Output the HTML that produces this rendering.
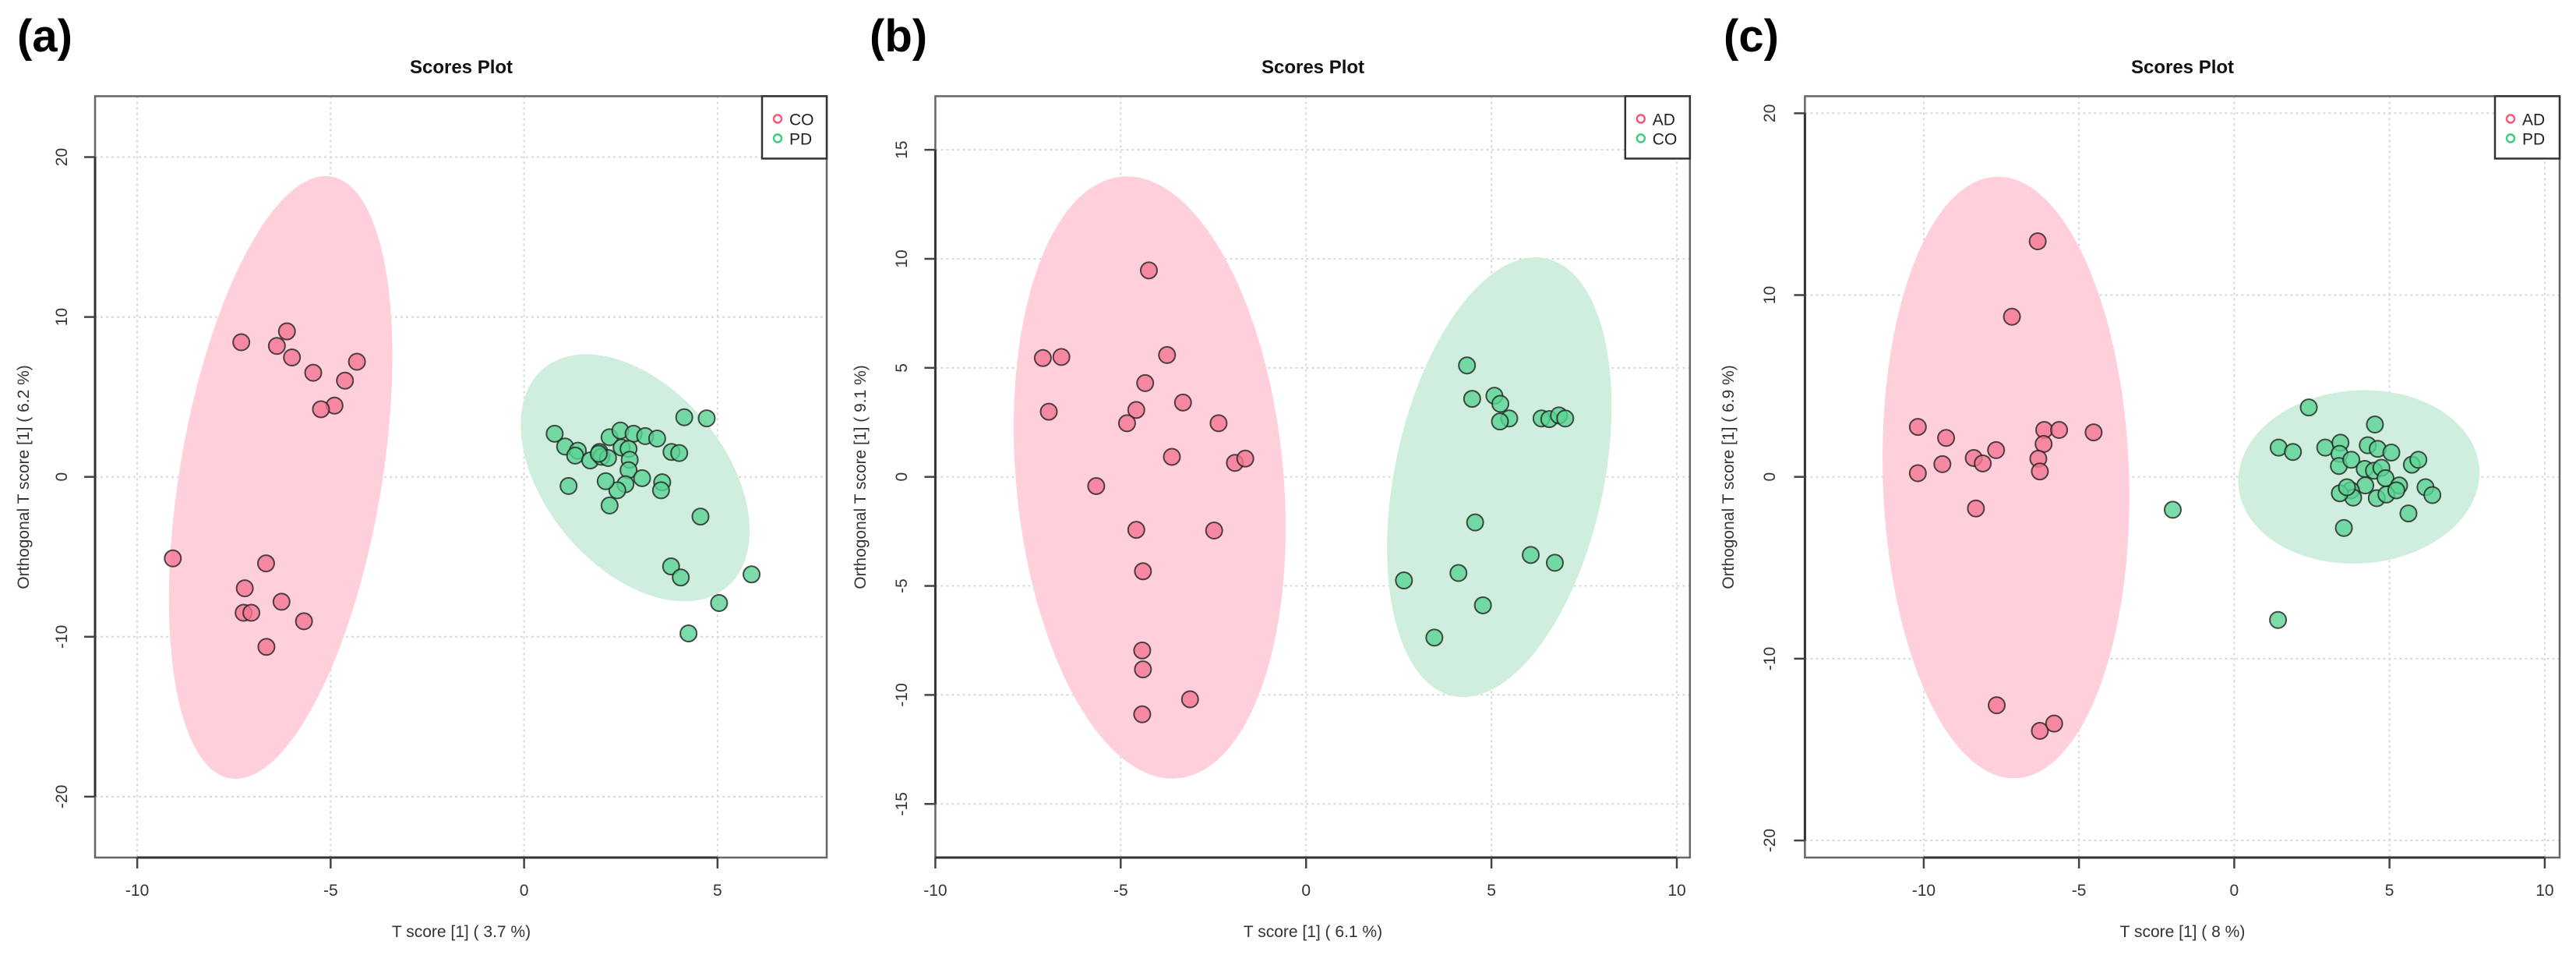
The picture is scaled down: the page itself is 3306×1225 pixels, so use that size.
<!DOCTYPE html>
<html><head><meta charset="utf-8"><style>
html,body{margin:0;padding:0;background:#fff;}
svg{display:block;font-family:"Liberation Sans",Arial,sans-serif;}
</style></head><body>
<svg id="fig" width="3306" height="1225" viewBox="0 0 3306 1225" xmlns="http://www.w3.org/2000/svg"></svg>
<script>
// Panel (a) CO vs PD
const aRedX=[-7.31,-6.13,-6.39,-6.0,-5.45,-4.32,-4.63,-4.9,-5.25,-9.08,-6.67,-7.22,-6.27,-7.25,-7.05,-5.69,-6.66];
const aRedY=[8.42,9.1,8.19,7.47,6.51,7.2,6.02,4.46,4.23,-5.1,-5.41,-6.97,-7.81,-8.5,-8.5,-9.03,-10.63];
const aGrnX=[0.79,1.06,1.39,1.32,1.71,1.95,2.0,2.17,1.93,2.21,2.49,2.83,3.13,3.44,2.52,2.7,2.73,2.7,3.05,2.62,2.41,2.11,2.21,1.15,3.57,3.54,3.81,4.01,4.14,4.72,4.56,3.8,4.05,5.88,5.04,4.25];
const aGrnY=[2.7,1.9,1.64,1.33,1.03,1.56,1.26,1.18,1.45,2.48,2.9,2.7,2.55,2.4,1.83,1.75,1.07,0.42,-0.08,-0.46,-0.84,-0.27,-1.79,-0.57,-0.34,-0.84,1.56,1.49,3.73,3.66,-2.48,-5.6,-6.29,-6.1,-7.89,-9.79];
const aXTicks=[-10,-5,0,5];
const aYTicks=[-20,-10,0,10,20];
// Panel (b) AD vs CO
const bRedX=[-4.24,-7.1,-6.6,-3.75,-4.34,-6.94,-4.58,-4.83,-3.32,-2.36,-3.62,-1.92,-1.64,-5.66,-4.58,-2.48,-4.4,-4.42,-4.4,-3.13,-4.42];
const bRedY=[9.47,5.45,5.5,5.59,4.3,2.99,3.07,2.46,3.41,2.46,0.92,0.64,0.84,-0.42,-2.43,-2.46,-4.33,-7.96,-8.83,-10.2,-10.89];
const bGrnX=[4.34,4.48,5.08,5.24,5.48,5.23,6.35,6.56,6.82,6.99,4.56,6.06,6.71,2.64,4.11,4.77,3.46];
const bGrnY=[5.11,3.58,3.72,3.35,2.68,2.54,2.68,2.65,2.82,2.68,-2.09,-3.58,-3.94,-4.75,-4.41,-5.89,-7.37];
const bXTicks=[-10,-5,0,5,10];
const bYTicks=[-15,-10,-5,0,5,10,15];
// Panel (c) AD vs PD
const cRedX=[-6.33,-7.16,-10.19,-10.19,-9.28,-9.4,-8.39,-8.1,-7.67,-8.32,-6.12,-5.64,-6.14,-6.31,-6.26,-4.53,-7.65,-6.26,-5.8];
const cRedY=[12.96,8.81,2.75,0.2,2.14,0.7,1.04,0.74,1.47,-1.74,2.58,2.58,1.81,1.0,0.3,2.45,-12.56,-13.97,-13.57];
const cGrnX=[-1.98,1.41,2.4,1.43,1.89,2.93,3.42,3.39,3.37,3.77,4.53,4.3,4.62,5.06,4.2,4.5,4.74,4.87,5.31,4.22,3.76,3.83,3.4,3.63,4.59,4.9,5.22,5.72,5.93,6.16,6.38,5.61,3.53];
const cGrnY=[-1.81,-7.87,3.82,1.61,1.37,1.61,1.88,1.27,0.6,0.94,2.88,1.74,1.54,1.34,0.44,0.34,0.5,-0.07,-0.47,-0.47,-0.74,-1.14,-0.9,-0.57,-1.17,-0.97,-0.74,0.67,0.94,-0.57,-1.0,-2.01,-2.81];
const cXTicks=[-10,-5,0,5,10];
const cYTicks=[-20,-10,0,10,20];

const NS="http://www.w3.org/2000/svg";
const svg=document.getElementById('fig');
function mk(tag,attrs,parent,text){const e=document.createElementNS(NS,tag);for(const k in attrs)e.setAttribute(k,attrs[k]);if(text!==undefined)e.textContent=text;(parent||svg).appendChild(e);return e;}

function panel(p){
  const g=mk('g',{});
  
  
  const sx=v=>p.x0+v*p.kx, sy=v=>p.y0-v*p.ky;
  p.xt.forEach(t=>{const l=mk('line',{x1:sx(t),x2:sx(t),y1:p.top,y2:p.bot,stroke:'#d8d8d8','stroke-width':2,'stroke-dasharray':'3,4'},g);
    });
  p.yt.forEach(t=>{const l=mk('line',{x1:p.left,x2:p.right,y1:sy(t),y2:sy(t),stroke:'#d8d8d8','stroke-width':2,'stroke-dasharray':'3,4'},g);
    });
  p.ell.forEach((e,i)=>{const el=mk('ellipse',{cx:e[0],cy:e[1],rx:e[2],ry:e[3],fill:i==0?'#ffd0db':'#cfeedd',transform:`rotate(${e[4]} ${e[0]} ${e[1]})`},g);
    });
  const drawPts=(xs,ys,fill,name)=>xs.forEach((x,i)=>{const c=mk('circle',{cx:sx(x),cy:sy(ys[i]),r:10.5,fill:fill,'fill-opacity':0.8,stroke:'#222','stroke-opacity':0.8,'stroke-width':2},g);
    });
  drawPts(p.rx,p.ry,'#f47592',p.g1.toLowerCase()+'-point');
  drawPts(p.gx,p.gy,'#5ad394',p.g2.toLowerCase()+'-point');
  const fr=mk('rect',{x:p.left,y:p.top,width:p.right-p.left,height:p.bot-p.top,fill:'none',stroke:'#666','stroke-width':2.5},g);
  
  mk('line',{x1:sx(p.xt[0]),x2:sx(p.xt[p.xt.length-1]),y1:p.bot,y2:p.bot,stroke:'#333','stroke-width':3},g);
  mk('line',{x1:p.left,x2:p.left,y1:sy(p.yt[0]),y2:sy(p.yt[p.yt.length-1]),stroke:'#333','stroke-width':3},g);
  p.xt.forEach(t=>{mk('line',{x1:sx(t),x2:sx(t),y1:p.bot,y2:p.bot+14,stroke:'#444','stroke-width':2.5},g);
    const tx=mk('text',{x:sx(t),y:p.bot+49,'font-size':21,'text-anchor':'middle',fill:'#333'},g,String(t));
    });
  p.yt.forEach(t=>{mk('line',{x1:p.left-14,x2:p.left,y1:sy(t),y2:sy(t),stroke:'#444','stroke-width':2.5},g);
    const tx=mk('text',{x:p.ytx,y:sy(t),'font-size':21,'text-anchor':'middle',fill:'#333',transform:`rotate(-90 ${p.ytx} ${sy(t)})`},g,String(t));
    });
  const ti=mk('text',{x:p.tcx,y:94,'font-size':24,'font-weight':'bold','text-anchor':'middle',fill:'#111'},g,'Scores Plot');
  
  const xl=mk('text',{x:p.tcx,y:1202,'font-size':21,'text-anchor':'middle',fill:'#333'},g,p.xlab);
  
  const yl=mk('text',{x:p.ylx,y:612,'font-size':21,'text-anchor':'middle',fill:'#333',transform:`rotate(-90 ${p.ylx} 612)`},g,p.ylab);
  
  const pl=mk('text',{x:p.plx,y:66,'font-size':58,'font-weight':'bold',fill:'#000'},g,'('+p.id+')');
  
  const lg=mk('g',{},g);
  
  mk('rect',{x:p.right-83,y:p.top,width:83,height:80,fill:'#fff',stroke:'#333','stroke-width':2.5},lg);
  [[p.g1,'#f4587a'],[p.g2,'#3fcc7f']].forEach((d,i)=>{
    mk('circle',{cx:p.right-63,cy:p.top+29+i*25,r:5,fill:'none',stroke:d[1],'stroke-width':2.5},lg);
    const t=mk('text',{x:p.right-48,y:p.top+37+i*25,'font-size':21,fill:'#222'},lg,d[0]);
    
  });
}

panel({id:'a',left:122,right:1061,top:123.4,bot:1100,x0:672.6,kx:49.65,y0:611.7,ky:20.51,xt:aXTicks,yt:aYTicks,
  rx:aRedX,ry:aRedY,gx:aGrnX,gy:aGrnY,g1:'CO',g2:'PD',
  ell:[[360.2,612.5,129.6,391.4,9.56],[815.2,612.9,183,115,50]],
  tcx:592,ylx:37,ytx:86,plx:22,xlab:'T score [1] ( 3.7 %)',ylab:'Orthogonal T score [1] ( 6.2 %)'});
panel({id:'b',left:1200.4,right:2168.8,top:123.4,bot:1100,x0:1676.2,kx:47.58,y0:611.7,ky:27.97,xt:bXTicks,yt:bYTicks,
  rx:bRedX,ry:bRedY,gx:bGrnX,gy:bGrnY,g1:'AD',g2:'CO',
  ell:[[1475.5,612.5,171.5,387.6,-5.36],[1924.2,612.1,134.1,287,12]],
  tcx:1685,ylx:1111,ytx:1164,plx:1116,xlab:'T score [1] ( 6.1 %)',ylab:'Orthogonal T score [1] ( 9.1 %)'});
panel({id:'c',left:2316.4,right:3285,top:123.4,bot:1100,x0:2867.4,kx:39.85,y0:611.7,ky:23.32,xt:cXTicks,yt:cYTicks,
  rx:cRedX,ry:cRedY,gx:cGrnX,gy:cGrnY,g1:'AD',g2:'PD',
  ell:[[2574.4,612.5,158,386,-1.8],[3027.3,611.7,155,111,-4]],
  tcx:2801,ylx:2225,ytx:2278,plx:2212,xlab:'T score [1] ( 8 %)',ylab:'Orthogonal T score [1] ( 6.9 %)'});
</script>
</body></html>
